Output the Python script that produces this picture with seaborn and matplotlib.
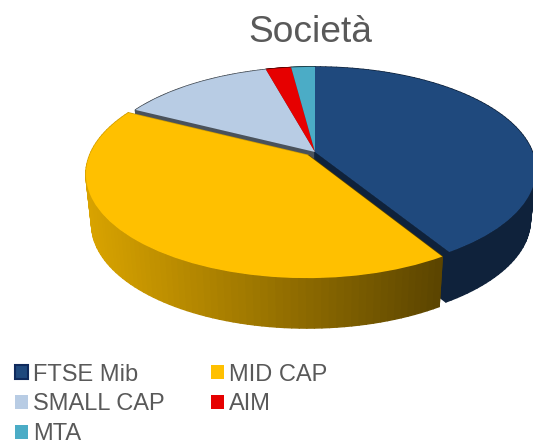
import numpy as np
import seaborn as sns
import matplotlib
matplotlib.use('Agg')
import matplotlib.pyplot as plt
from matplotlib.collections import PolyCollection
from matplotlib.patches import Patch
from matplotlib.transforms import Transform

# Data
labels = ['FTSE Mib', 'MID CAP', 'SMALL CAP', 'AIM', 'MTA']
shares = [41.2, 41.3, 13.25, 2.2, 2.05]
explode = [0, 0.045, 0, 0, 0]
colors = ['#1f497d', '#ffc000', '#b8cce4', '#e60000', '#4bacc6']
# wall shading, left and right side of the picture
wall_shade = [(0.52, 0.47), (0.85, 0.36), (0.40, 0.40), (0.40, 0.40), (0.40, 0.40)]

sns.set_theme(style='white')
plt.rcParams['font.family'] = ['Liberation Sans', 'DejaVu Sans']

# Look of the tilted disc, in pixels
CX, CY = 315, 152
RX, RY = 217.5, 100
TILT = 0.175
DEPTH = 50
SHRINK = 0.975


class Tilt(Transform):
    # unit disc -> pixel position on the tilted top face
    input_dims = 2
    output_dims = 2

    def transform_non_affine(self, values):
        v = np.asarray(values, dtype=float)
        w = 1 + TILT * v[:, 1]
        return np.column_stack([CX + RX * v[:, 0] / w, CY - RY * v[:, 1] / w])


tilt = Tilt()


def down(pts):
    # same points on the bottom face
    return np.column_stack([CX + (pts[:, 0] - CX) * SHRINK, pts[:, 1] + DEPTH])


def shade(color, pair, x):
    t = np.clip((x - 87) / (437 - 87), 0, 1)
    k = pair[0] + (pair[1] - pair[0]) * t
    return tuple(c * k for c in matplotlib.colors.to_rgb(color))


fig, ax = plt.subplots(figsize=(5.33, 4.45), dpi=100)
fig.subplots_adjust(0, 0, 1, 1)
fig.patch.set_facecolor('white')

wedges, _ = ax.pie(shares, colors=sns.color_palette(colors), explode=explode,
                   startangle=90, counterclock=False, radius=1,
                   wedgeprops={'linewidth': 0})
ax.set_xlim(0, 533)
ax.set_ylim(445, 0)
ax.set_aspect('auto')
ax.axis('off')

# Side walls first, back slices before front ones
for i in [3, 4, 2, 0, 1]:
    w = wedges[i]
    cx, cy = w.center
    th = np.radians(np.linspace(w.theta1, w.theta2, 90))
    rim = tilt.transform(np.column_stack([cx + np.cos(th), cy + np.sin(th)]))
    apex = tilt.transform(np.array([[cx, cy]]))
    base = down(rim)
    polys, cols = [], []
    for end in (rim[0:1], rim[-1:]):
        top = np.vstack([apex, end])
        polys.append(np.vstack([top, down(top)[::-1]]))
        cols.append(shade(colors[i], wall_shade[i], end[0, 0]))
    for j in range(len(rim) - 1):
        polys.append(np.array([rim[j], rim[j + 1], base[j + 1], base[j]]))
        cols.append(shade(colors[i], wall_shade[i], rim[j, 0]))
    ax.add_collection(PolyCollection(polys, facecolors=cols, edgecolors=cols,
                                     linewidths=1.0, zorder=2))

# Top faces are the pie wedges themselves
for w in wedges:
    w.set_transform(tilt + ax.transData)
    w.set_zorder(3)

ax.set_title('Società', x=0.582, y=0.888, fontsize=26.7, color='#595959')

handles = [Patch(facecolor=c, edgecolor='#0f2a5c' if i == 0 else c,
                 linewidth=1.5 if i == 0 else 0) for i, c in enumerate(colors)]
order = [0, 2, 4, 1, 3]
ax.legend([handles[i] for i in order], [labels[i] for i in order], ncol=2,
          loc='lower left', bbox_to_anchor=(0.02, -0.011), frameon=False,
          fontsize=17, labelcolor='#595959', handlelength=0.55, handleheight=0.55,
          handletextpad=0.21, columnspacing=1.95, labelspacing=0.33,
          borderpad=0.2, borderaxespad=0)

fig.savefig('out.png', dpi=100)
